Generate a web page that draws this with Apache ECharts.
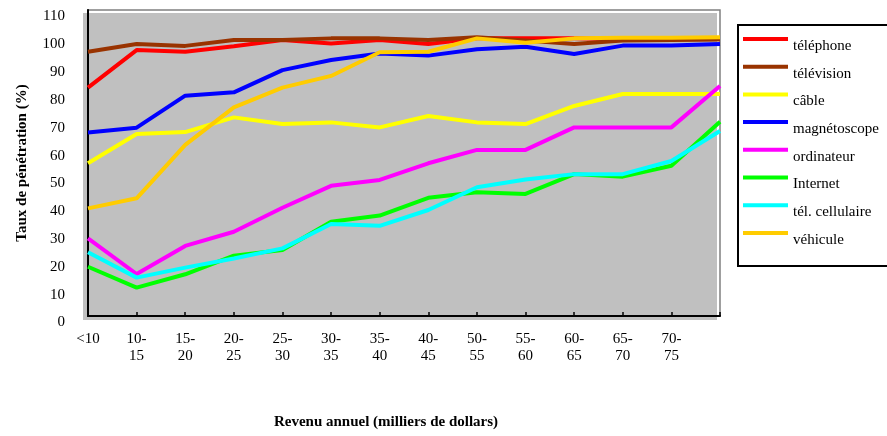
<!DOCTYPE html>
<html>
<head>
<meta charset="utf-8">
<script src="https://cdn.jsdelivr.net/npm/echarts@6/dist/echarts.min.js"></script>
<style>html,body{margin:0;padding:0;background:#fff}#c{width:887px;height:436px}</style>
</head>
<body>
<div id="c"></div>
<script>
const categories = ['<10','10-\n15','15-\n20','20-\n25','25-\n30','30-\n35','35-\n40','40-\n45','50-\n55','55-\n60','60-\n65','65-\n70','70-\n75',''];
const yTicks = { min: 0, max: 110, step: 10 };

const telephone    = [82.1, 95.6, 95.0, 97.0, 99.2, 98.0, 99.2, 97.8, 99.8, 99.8, 99.8, 99.5, 99.5, 99.6];
const television   = [95.0, 97.8, 97.1, 99.2, 99.2, 99.8, 99.8, 99.2, 100.2, 99.0, 97.8, 99.0, 99.2, 99.4];
const cable        = [54.9, 65.4, 66.1, 71.4, 69.0, 69.6, 67.8, 71.9, 69.6, 69.0, 75.5, 79.8, 79.8, 79.8];
const magnetoscope = [66.0, 67.7, 79.2, 80.4, 88.4, 92.0, 94.4, 93.6, 95.9, 96.8, 94.2, 97.2, 97.2, 97.8];
const ordinateur   = [27.9, 15.1, 25.2, 30.3, 38.9, 46.8, 48.9, 54.9, 59.7, 59.7, 67.8, 67.8, 67.8, 82.7];
const internet     = [17.7, 10.2, 15.0, 21.7, 23.7, 33.9, 36.1, 42.5, 44.5, 43.9, 51.0, 50.1, 54.0, 69.8];
const cellulaire   = [22.9, 13.8, 17.4, 20.7, 24.3, 33.1, 32.4, 38.1, 46.3, 49.1, 51.0, 51.0, 55.7, 66.5];
const vehicule     = [38.7, 42.3, 61.5, 75.0, 82.1, 86.3, 94.8, 95.0, 99.8, 98.2, 99.8, 100.0, 100.0, 100.2];

const seriesNames  = ['téléphone','télévision','câble','magnétoscope','ordinateur','Internet','tél. cellulaire','véhicule'];
const seriesData   = [telephone, television, cable, magnetoscope, ordinateur, internet, cellulaire, vehicule];
const seriesColors = ['#ff0000','#993300','#ffff00','#0000ff','#ff00ff','#00ff00','#00ffff','#ffcc00'];

const serif = "'Liberation Serif','Times New Roman',serif";
// legend sample: a 4px bar sitting at the top of an 18px-tall icon box
const legendIcon = 'path://M0,0L45,0L45,4L0,4Z M0,18L0.001,18L0.001,17.999Z';

const chart = echarts.init(document.getElementById('c'), null, { renderer: 'canvas' });
chart.setOption({
  animation: false,
  backgroundColor: '#ffffff',
  title: {
    text: 'Revenu annuel (milliers de dollars)',
    left: 386, top: 415, textAlign: 'center', padding: 0,
    textStyle: { fontFamily: serif, fontSize: 15, fontWeight: 'bold', color: '#000' }
  },
  graphic: {
    elements: [{
      type: 'rect', z: -100, silent: true,
      shape: { x: 83, y: 13, width: 634, height: 307 },
      style: { fill: '#c0c0c0' }
    }]
  },
  grid: {
    left: 88, right: 167, top: 10, bottom: 120,
    show: true, backgroundColor: 'transparent', borderColor: '#808080', borderWidth: 1.5
  },
  legend: {
    orient: 'vertical',
    left: 738, top: 25,
    padding: [12, 30, 17, 5],
    itemGap: 9.7,
    itemWidth: 45, itemHeight: 18, itemTextGap: 1,
    icon: legendIcon,
    borderColor: '#000', borderWidth: 2,
    textStyle: { fontFamily: serif, fontSize: 15, color: '#000' },
    data: seriesNames
  },
  xAxis: {
    type: 'category', boundaryGap: false, data: categories,
    axisLine: { lineStyle: { color: '#000', width: 2 } },
    axisTick: { inside: true, length: 4, lineStyle: { color: '#000', width: 1.5 } },
    axisLabel: { interval: 0, margin: 15, fontFamily: serif, fontSize: 15, lineHeight: 17, color: '#000' },
    splitLine: { show: false }
  },
  yAxis: {
    type: 'value', min: yTicks.min, max: yTicks.max, interval: yTicks.step,
    name: 'Taux de pénétration (%)', nameLocation: 'middle', nameGap: 58,
    nameTextStyle: { fontFamily: serif, fontSize: 15, fontWeight: 'bold', color: '#000' },
    axisLine: { show: true, lineStyle: { color: '#000', width: 2 } },
    axisTick: { show: false },
    axisLabel: { margin: 23, fontFamily: serif, fontSize: 15, color: '#000', verticalAlign: 'top', lineHeight: 13 },
    splitLine: { show: false }
  },
  series: seriesNames.map((n, i) => ({
    name: n, type: 'line', data: seriesData[i],
    symbol: 'none', smooth: false,
    lineStyle: { width: 4, color: seriesColors[i] },
    itemStyle: { color: seriesColors[i] }
  }))
});
</script>
</body>
</html>
